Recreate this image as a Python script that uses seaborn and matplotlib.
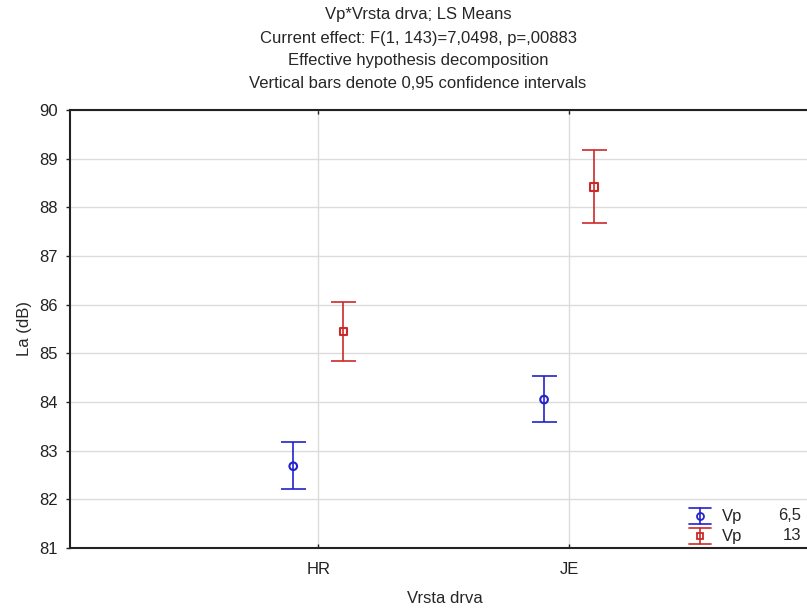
import numpy as np
import matplotlib
matplotlib.use("Agg")
import matplotlib.pyplot as plt
import seaborn as sns
from matplotlib.lines import Line2D

# LS means and 0.95 confidence limits
wood_types = ["HR", "JE"]
vp_levels = ["6,5", "13"]
means = {"6,5": [82.68, 84.05], "13": [85.45, 88.42]}
ci_low = {"6,5": [82.21, 83.58], "13": [84.85, 87.67]}
ci_high = {"6,5": [83.17, 84.53], "13": [86.05, 89.18]}
colors = {"6,5": "#2222cc", "13": "#cc2a2a"}
markers = {"6,5": "o", "13": "s"}
offsets = {"6,5": -0.1, "13": 0.1}

sns.set_style("whitegrid")
plt.rcParams["font.family"] = ["Liberation Sans", "DejaVu Sans"]

fig = plt.figure(figsize=(8.07, 6.10), dpi=100)
ax = fig.add_axes([70 / 807, 1 - 548 / 610, 750 / 807, 438 / 610])

x = np.arange(len(wood_types))
for lvl in vp_levels:
    xs = x + offsets[lvl]
    m = np.array(means[lvl])
    err = np.vstack([m - np.array(ci_low[lvl]), np.array(ci_high[lvl]) - m])
    ax.errorbar(xs, m, yerr=err, fmt="none", ecolor=colors[lvl],
                elinewidth=1.2, capsize=9, capthick=1.2, zorder=3)
    sns.scatterplot(x=xs, y=m, ax=ax, marker=markers[lvl], s=30,
                    facecolor="none", edgecolor=colors[lvl], linewidth=1.5,
                    zorder=4)

ax.set_xlim(-0.99, 2.0)
ax.set_ylim(81, 90)
ax.set_xticks(x)
ax.set_xticklabels(wood_types)
ax.set_yticks(np.arange(81, 91))
ax.grid(True, color="#dcdcdc", linewidth=1)
for side in ["left", "bottom", "top"]:
    ax.spines[side].set_visible(True)
    ax.spines[side].set_color("#222222")
    ax.spines[side].set_linewidth(1.5)
ax.spines["right"].set_visible(False)
ax.tick_params(axis="both", labelsize=12, colors="#222222", length=3,
               width=1, direction="out", pad=6)
ax.tick_params(axis="x", direction="in", top=True, bottom=True, pad=10)
ax.tick_params(axis="y", left=True)

ax.set_xlabel("Vrsta drva", fontsize=12, labelpad=10)
ax.set_ylabel("La (dB)", fontsize=12, labelpad=5)

title_lines = ["Vp*Vrsta drva; LS Means",
               "Current effect: F(1, 143)=7,0498, p=,00883",
               "Effective hypothesis decomposition",
               "Vertical bars denote 0,95 confidence intervals"]
for i, line in enumerate(title_lines):
    fig.text(418 / 807, 1 - (15 + 23 * i) / 610, line, ha="center",
             va="center", fontsize=12)

# legend drawn as small error bar glyphs, like the original software does
leg_y = [516, 536]
for lvl, yy in zip(vp_levels, leg_y):
    fy = 1 - yy / 610
    top, bot = fy + 8 / 610, fy - 8 / 610
    for yl in (top, bot):
        fig.lines.append(Line2D([689 / 807, 711 / 807], [yl, yl],
                                color=colors[lvl], lw=1.2,
                                transform=fig.transFigure))
    fig.lines.append(Line2D([700 / 807, 700 / 807], [bot, top],
                            color=colors[lvl], lw=1.2,
                            transform=fig.transFigure))
    fig.lines.append(Line2D([700 / 807], [fy], color=colors[lvl],
                            marker=markers[lvl], markersize=5,
                            markerfacecolor="none", markeredgewidth=1.3,
                            transform=fig.transFigure))
    fig.text(722 / 807, fy, "Vp", fontsize=12, va="center")
    fig.text(801 / 807, fy, lvl, fontsize=12, va="center", ha="right")

fig.savefig("out.png", dpi=100)
